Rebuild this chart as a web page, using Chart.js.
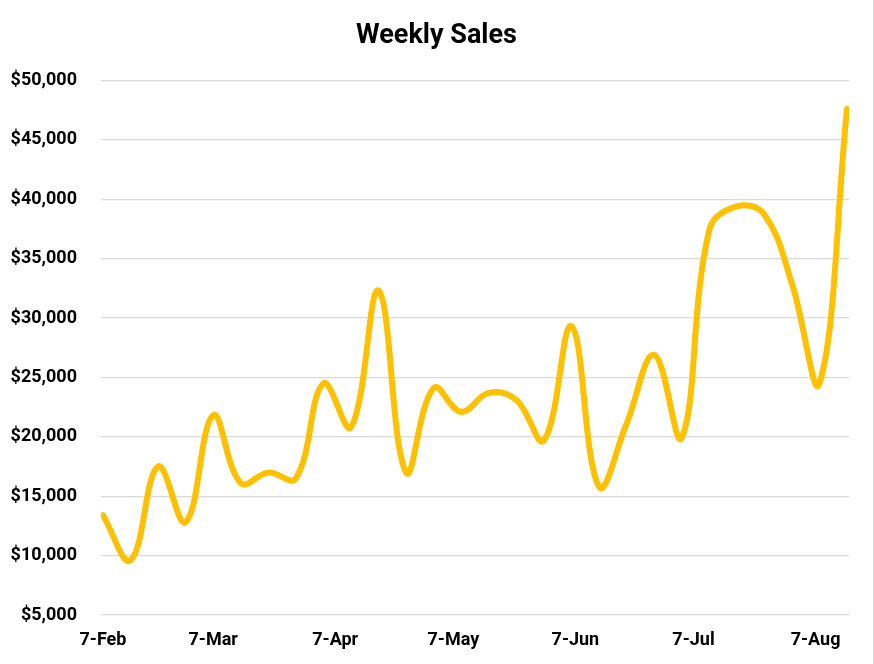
<!DOCTYPE html>
<html>
<head>
<meta charset="utf-8">
<title>Weekly Sales</title>
<script src="https://cdn.jsdelivr.net/npm/chart.js@4.4.1/dist/chart.umd.min.js"></script>
<style>
  html, body { margin: 0; padding: 0; background: #fff; }
  #wrap { width: 873px; height: 664px; border-right: 1px solid #d9d9d9; }
  canvas { display: block; }
</style>
</head>
<body>
<div id="wrap"><canvas id="salesChart" width="873" height="664"></canvas></div>
<script>
// weekly sales, one point per week
var weekDates = ['2023-02-07', '2023-02-14', '2023-02-21', '2023-02-28', '2023-03-07', '2023-03-14', '2023-03-21',
  '2023-03-28', '2023-04-04', '2023-04-11', '2023-04-18', '2023-04-25', '2023-05-02', '2023-05-09',
  '2023-05-16', '2023-05-23', '2023-05-30', '2023-06-06', '2023-06-13', '2023-06-20', '2023-06-27',
  '2023-07-04', '2023-07-11', '2023-07-18', '2023-07-25', '2023-08-01', '2023-08-08', '2023-08-15'];
var sales = [13400, 9600, 17500, 12800, 21800, 16100, 17000,
  16500, 24500, 20800, 32300, 17000, 24100, 22100,
  23700, 23100, 19700, 29300, 15800, 21100, 26900,
  19900, 37400, 39400, 38700, 32900, 24500, 47600];

// axis labels
var tickDates = ['2023-02-07', '2023-03-07', '2023-04-07', '2023-05-07', '2023-06-07', '2023-07-07', '2023-08-07'];
var tickLabels = ['7-Feb', '7-Mar', '7-Apr', '7-May', '7-Jun', '7-Jul', '7-Aug'];
var yMin = 5000, yMax = 50000, yStep = 5000;

var startDate = weekDates[0];
var endDate = weekDates[weekDates.length - 1];

function dayNumber(s) {
  // days since the first week
  return Math.round((Date.parse(s) - Date.parse(startDate)) / 86400000);
}

var points = weekDates.map(function (d, i) {
  return { x: dayNumber(d), y: sales[i] };
});
var tickDays = tickDates.map(dayNumber);

var fontFamily = "Roboto, 'Liberation Sans', sans-serif";

var ctx = document.getElementById('salesChart').getContext('2d');
var chart = new Chart(ctx, {
  type: 'line',
  data: {
    datasets: [{
      label: 'Weekly Sales',
      data: points,
      borderColor: '#FFC000',
      borderWidth: 6,
      pointRadius: 0,
      fill: false,
      tension: 0.4,
      borderCapStyle: 'round',
      borderJoinStyle: 'round'
    }]
  },
  options: {
    responsive: false,
    animation: false,
    layout: { padding: 0 },
    plugins: {
      legend: { display: false },
      tooltip: { enabled: false },
      title: {
        display: true,
        text: 'Weekly Sales',
        color: '#000',
        font: { family: fontFamily, size: 27, weight: 'bold' },
        padding: { top: 20, bottom: 28 }
      }
    },
    scales: {
      x: {
        type: 'linear',
        min: -0.5,
        max: dayNumber(endDate) + 0.5,
        grid: { display: false, drawTicks: false },
        border: { display: false },
        afterBuildTicks: function (scale) {
          scale.ticks = tickDays.map(function (v) { return { value: v }; });
        },
        afterFit: function (scale) { scale.height = 49; },
        ticks: {
          autoSkip: false,
          maxRotation: 0,
          padding: 15,
          color: '#000',
          font: { family: fontFamily, size: 18, weight: 'bold' },
          callback: function (value) {
            var i = tickDays.indexOf(value);
            return i >= 0 ? tickLabels[i] : '';
          }
        }
      },
      y: {
        min: yMin,
        max: yMax,
        grid: { color: '#d9d9d9', lineWidth: 1.3, drawTicks: false },
        border: { display: false },
        afterFit: function (scale) { scale.width = 101; },
        ticks: {
          stepSize: yStep,
          padding: 24,
          color: '#000',
          font: { family: fontFamily, size: 18, weight: 'bold' },
          callback: function (value) {
            return '$' + value.toLocaleString('en-US');
          }
        }
      },
      // empty right margin so the title centres over the whole chart
      yRight: {
        position: 'right',
        display: true,
        grid: { display: false, drawTicks: false },
        border: { display: false },
        ticks: { display: false },
        afterFit: function (scale) { scale.width = 24; }
      }
    }
  }
});
</script>
</body>
</html>
